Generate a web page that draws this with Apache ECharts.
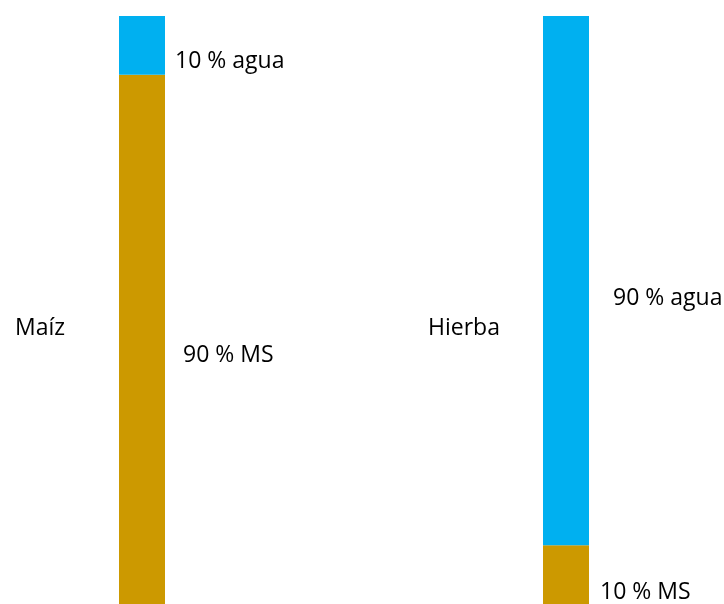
<!DOCTYPE html>
<html>
<head>
<meta charset="utf-8">
<script src="https://cdn.jsdelivr.net/npm/echarts@6/dist/echarts.min.js"></script>
<style>
  html, body { margin: 0; padding: 0; background: #ffffff; }
  #chart { width: 724px; height: 604px; }
</style>
</head>
<body>
<div id="chart"></div>
<script>
// Composition of each feed: share of water and dry matter (MS), in %
const categories = ['Maíz', 'Hierba'];
const agua = [10, 90];
const ms = [90, 10];
const aguaName = 'agua';
const msName = 'MS';

const FONT = '"Open Sans", sans-serif';
const FS = 23;
const BLUE = '#00B0F0';
const GOLD = '#CC9900';

// one narrow grid per bar; the bars run slightly past the bottom edge
const gridLefts = [119, 543];
// label nudges [right of bar, below segment centre] per bar
const aguaOffsets = [[10, 16], [24, 18]];
const msOffsets = [[18, 16], [11, 18]];
const nameLefts = [15, 428];

const chart = echarts.init(document.getElementById('chart'), null, { renderer: 'canvas' });

const grids = gridLefts.map(l => ({ left: l, width: 46, top: 16, height: 592 }));
const xAxes = categories.map((c, i) => ({
  type: 'category', gridIndex: i, data: [c], show: false
}));
const yAxes = categories.map((c, i) => ({
  type: 'value', gridIndex: i, min: 0, max: 100, show: false
}));

const labelStyle = {
  show: true, position: 'right', distance: 0,
  color: '#000000', fontFamily: FONT, fontSize: FS
};

const series = [];
categories.forEach((c, i) => {
  series.push({
    type: 'bar', name: msName, xAxisIndex: i, yAxisIndex: i, stack: 's' + i,
    barWidth: '100%', itemStyle: { color: GOLD },
    label: Object.assign({}, labelStyle, {
      offset: msOffsets[i], formatter: p => p.value + ' % ' + msName
    }),
    data: [ms[i]]
  });
  series.push({
    type: 'bar', name: aguaName, xAxisIndex: i, yAxisIndex: i, stack: 's' + i,
    barWidth: '100%', itemStyle: { color: BLUE },
    label: Object.assign({}, labelStyle, {
      offset: aguaOffsets[i], formatter: p => p.value + ' % ' + aguaName
    }),
    data: [agua[i]]
  });
});

const titles = categories.map((c, i) => ({
  text: c, left: nameLefts[i], top: 317, padding: 0,
  textStyle: { fontFamily: FONT, fontSize: FS, fontWeight: 'normal', color: '#000000' }
}));

chart.setOption({
  animation: false,
  backgroundColor: '#ffffff',
  title: titles,
  grid: grids,
  xAxis: xAxes,
  yAxis: yAxes,
  series: series
});
</script>
</body>
</html>
